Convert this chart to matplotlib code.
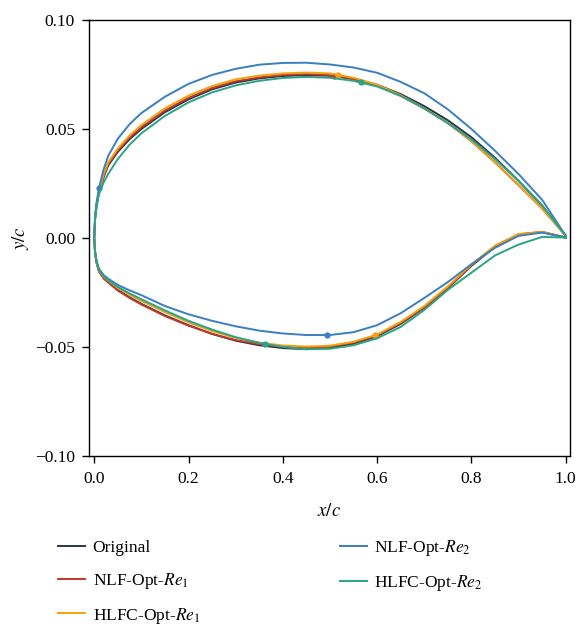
import numpy as np
import matplotlib
matplotlib.use("Agg")
import matplotlib.pyplot as plt
from matplotlib.ticker import FuncFormatter

plt.rcParams['font.family'] = ['Liberation Serif', 'DejaVu Serif']
plt.rcParams['mathtext.fontset'] = 'stix'
plt.rcParams['font.size'] = 12.5

# chordwise stations shared by every section (x/c)
x_c = [0.0, 0.002, 0.005, 0.01, 0.02, 0.03, 0.05, 0.075, 0.1, 0.15, 0.2, 0.25, 0.3,
       0.35, 0.4, 0.45, 0.5, 0.55, 0.6, 0.65, 0.7, 0.75, 0.8, 0.85, 0.9, 0.95, 1.0]

# upper surface y/c
orig_up = [0.0, 0.0092, 0.0150, 0.0207, 0.0280, 0.0334, 0.0395, 0.0453, 0.0500, 0.0577,
           0.0636, 0.0682, 0.0713, 0.0732, 0.0743, 0.0747, 0.0744, 0.0730, 0.0703, 0.0660,
           0.0605, 0.0540, 0.0462, 0.0368, 0.0262, 0.0148, 0.0010]
nlf1_up = [0.0, 0.0093, 0.0152, 0.0210, 0.0285, 0.0340, 0.0401, 0.0460, 0.0508, 0.0585,
           0.0643, 0.0688, 0.0719, 0.0737, 0.0748, 0.0752, 0.0747, 0.0729, 0.0699, 0.0652,
           0.0594, 0.0527, 0.0444, 0.0347, 0.0242, 0.0135, 0.0010]
hlfc1_up = [0.0, 0.0095, 0.0155, 0.0215, 0.0292, 0.0348, 0.0410, 0.0470, 0.0518, 0.0595,
            0.0653, 0.0697, 0.0728, 0.0745, 0.0755, 0.0759, 0.0755, 0.0735, 0.0703, 0.0655,
            0.0595, 0.0528, 0.0445, 0.0348, 0.0243, 0.0136, 0.0010]
nlf2_up = [0.0, 0.0100, 0.0162, 0.0228, 0.0315, 0.0378, 0.0455, 0.0522, 0.0573, 0.0648,
           0.0707, 0.0748, 0.0776, 0.0795, 0.0803, 0.0804, 0.0796, 0.0782, 0.0758, 0.0716,
           0.0664, 0.0590, 0.0500, 0.0400, 0.0293, 0.0175, 0.0010]
hlfc2_up = [0.0, 0.0088, 0.0140, 0.0200, 0.0255, 0.0295, 0.0362, 0.0428, 0.0480, 0.0560,
            0.0622, 0.0668, 0.0700, 0.0721, 0.0734, 0.0739, 0.0735, 0.0721, 0.0695, 0.0652,
            0.0595, 0.0527, 0.0452, 0.0362, 0.0262, 0.0150, 0.0010]

# lower surface y/c
orig_lo = [0.0, -0.0068, -0.0112, -0.0150, -0.0183, -0.0202, -0.0238, -0.0272, -0.0302, -0.0355,
           -0.0400, -0.0440, -0.0471, -0.0492, -0.0505, -0.0510, -0.0505, -0.0485, -0.0450, -0.0394,
           -0.0320, -0.0230, -0.0128, -0.0040, 0.0015, 0.0027, 0.0002]
nlf1_lo = [0.0, -0.0070, -0.0115, -0.0153, -0.0186, -0.0205, -0.0241, -0.0275, -0.0305, -0.0358,
           -0.0402, -0.0440, -0.0468, -0.0487, -0.0499, -0.0503, -0.0498, -0.0480, -0.0446, -0.0390,
           -0.0318, -0.0228, -0.0125, -0.0037, 0.0017, 0.0028, 0.0002]
hlfc1_lo = [0.0, -0.0067, -0.0110, -0.0147, -0.0178, -0.0196, -0.0229, -0.0260, -0.0289, -0.0340,
            -0.0387, -0.0427, -0.0458, -0.0480, -0.0493, -0.0498, -0.0494, -0.0476, -0.0443, -0.0385,
            -0.0312, -0.0222, -0.0122, -0.0035, 0.0018, 0.0028, 0.0002]
nlf2_lo = [0.0, -0.0065, -0.0105, -0.0140, -0.0170, -0.0187, -0.0215, -0.0240, -0.0262, -0.0312,
           -0.0350, -0.0380, -0.0405, -0.0425, -0.0438, -0.0445, -0.0445, -0.0432, -0.0400, -0.0345,
           -0.0275, -0.0202, -0.0120, -0.0045, 0.0010, 0.0025, 0.0002]
hlfc2_lo = [0.0, -0.0066, -0.0108, -0.0145, -0.0175, -0.0195, -0.0224, -0.0254, -0.0281, -0.0332,
            -0.0380, -0.0420, -0.0455, -0.0481, -0.0500, -0.0510, -0.0508, -0.0492, -0.0460, -0.0408,
            -0.0330, -0.0238, -0.0159, -0.0080, -0.0030, 0.0005, 0.0002]

# transition locations (upper x, upper y, lower x, lower y); None = not marked
orig_tr = None
nlf1_tr = [0.509, 0.0744, 0.595, -0.0449]
hlfc1_tr = [0.516, 0.0750, 0.595, -0.0446]
nlf2_tr = [0.010, 0.0228, 0.493, -0.0445]
hlfc2_tr = [0.566, 0.0714, 0.362, -0.0486]

labels = ['Original', r'NLF-Opt-$\mathit{Re}_1$', r'HLFC-Opt-$\mathit{Re}_1$',
          r'NLF-Opt-$\mathit{Re}_2$', r'HLFC-Opt-$\mathit{Re}_2$']
colors = ['#2b3446', '#c0392b', '#f5a00f', '#3b7fc0', '#2aa489']

ups = [orig_up, nlf1_up, hlfc1_up, nlf2_up, hlfc2_up]
los = [orig_lo, nlf1_lo, hlfc1_lo, nlf2_lo, hlfc2_lo]
trs = [orig_tr, nlf1_tr, hlfc1_tr, nlf2_tr, hlfc2_tr]

fig = plt.figure(figsize=(5.78, 6.26), dpi=100)
ax = fig.add_axes([89 / 578, 1 - 456 / 626, 481 / 578, 436 / 626])

xs = np.array(x_c)
handles = []
for up, lo, tr, c, lab in zip(ups, los, trs, colors, labels):
    # closed contour: trailing edge -> upper -> leading edge -> lower -> trailing edge
    xx = np.concatenate([xs[::-1], xs[1:]])
    yy = np.concatenate([np.array(up)[::-1], np.array(lo)[1:]])
    h, = ax.plot(xx, yy, color=c, lw=1.4, label=lab)
    handles.append(h)
    if tr is not None:
        ax.plot([tr[0], tr[2]], [tr[1], tr[3]], 'o', color=c, ms=4.5, mec='none')

ax.set_xlim(-0.011, 1.009)
ax.set_ylim(-0.1, 0.1)
ax.set_xticks([0.0, 0.2, 0.4, 0.6, 0.8, 1.0])
ax.set_yticks([-0.10, -0.05, 0.0, 0.05, 0.10])
ax.xaxis.set_major_formatter(FuncFormatter(lambda v, p: '%.1f' % v))
ax.yaxis.set_major_formatter(FuncFormatter(lambda v, p: ('%.2f' % v).replace('-', '\u2212')))
ax.tick_params(direction='out', length=5, width=1, pad=5, labelsize=12.5)
ax.tick_params(axis='x', pad=6)
for s in ax.spines.values():
    s.set_linewidth(1)
ax.set_xlabel('$x/c$', fontsize=13.5, labelpad=11)
ax.set_ylabel('$y/c$', fontsize=13.5, labelpad=3)

fig.legend(handles, labels, loc='upper left', bbox_to_anchor=(58 / 578, 1 - 538 / 626),
           ncol=2, frameon=False, borderpad=0, borderaxespad=0, labelspacing=0.85,
           handlelength=1.55, handletextpad=0.45, columnspacing=8.05, fontsize=12.5)

fig.savefig('out.png', dpi=100)
